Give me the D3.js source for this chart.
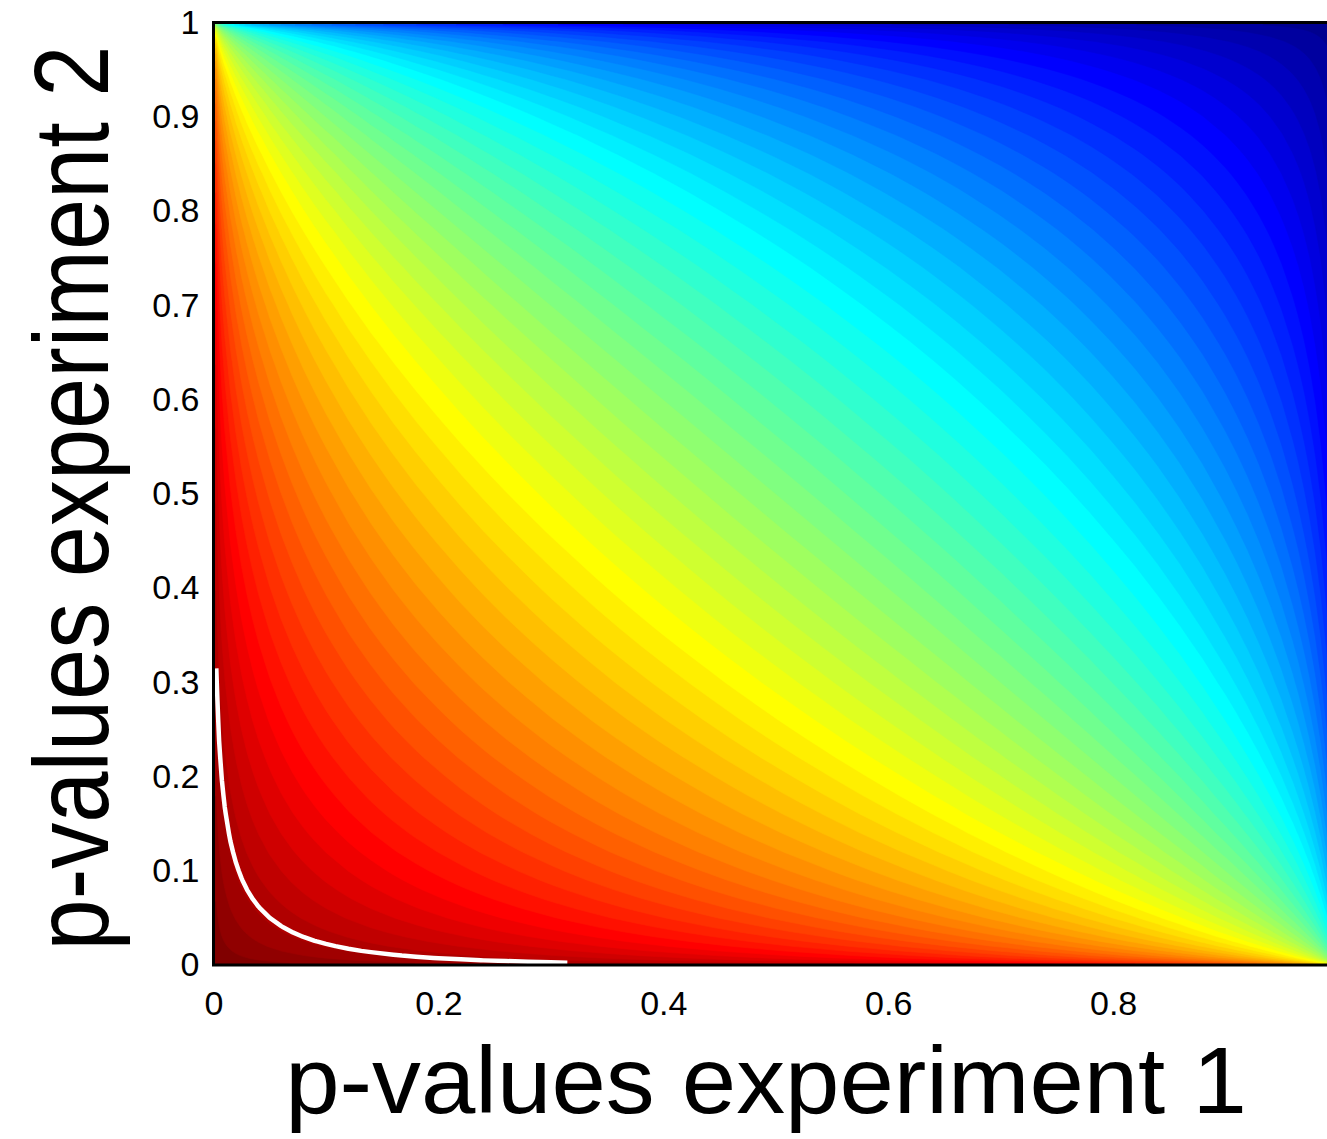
<!DOCTYPE html>
<html>
<head>
<meta charset="utf-8">
<script src="https://cdn.jsdelivr.net/npm/d3@7"></script>
<style>
  body { margin: 0; background: #fff; }
  svg { display: block; }
  text { font-family: "Liberation Sans", Arial, Helvetica, sans-serif; fill: #000; }
</style>
</head>
<body>
<svg id="chart" width="1327" height="1139"></svg>
<script>
// Sample p-values along each axis and their standard-normal quantiles.
const pGrid = [
  0.0025, 0.005, 0.0075, 0.01, 0.015, 0.02, 0.025, 0.03, 0.035, 0.04,
  0.05, 0.06, 0.07, 0.08, 0.09, 0.10, 0.12, 0.14, 0.16, 0.18,
  0.20, 0.22, 0.24, 0.26, 0.28, 0.30, 0.32, 0.34, 0.36, 0.38,
  0.40, 0.42, 0.44, 0.46, 0.48, 0.50, 0.52, 0.54, 0.56, 0.58,
  0.60, 0.62, 0.64, 0.66, 0.68, 0.70, 0.72, 0.74, 0.76, 0.78,
  0.80, 0.82, 0.84, 0.86, 0.88, 0.90, 0.91, 0.92, 0.93, 0.94,
  0.95, 0.96, 0.965, 0.97, 0.975, 0.98, 0.985, 0.99, 0.9925, 0.995,
  0.9975
];
const zGrid = [
  -2.807, -2.576, -2.432, -2.326, -2.170, -2.054, -1.960, -1.881, -1.812, -1.751,
  -1.645, -1.555, -1.476, -1.405, -1.341, -1.282, -1.175, -1.080, -0.994, -0.915,
  -0.842, -0.772, -0.706, -0.643, -0.583, -0.524, -0.468, -0.412, -0.358, -0.305,
  -0.253, -0.202, -0.151, -0.100, -0.050, 0.000, 0.050, 0.100, 0.151, 0.202,
  0.253, 0.305, 0.358, 0.412, 0.468, 0.524, 0.583, 0.643, 0.706, 0.772,
  0.842, 0.915, 0.994, 1.080, 1.175, 1.282, 1.341, 1.405, 1.476, 1.555,
  1.645, 1.751, 1.812, 1.881, 1.960, 2.054, 2.170, 2.326, 2.432, 2.576,
  2.807
];
const xTicks = [0, 0.2, 0.4, 0.6, 0.8];
const yTicks = [0, 0.1, 0.2, 0.3, 0.4, 0.5, 0.6, 0.7, 0.8, 0.9, 1];
const xTitle = "p-values experiment 1";
const yTitle = "p-values experiment 2";
const nLevels = 64;
const significanceLevel = 0.05;

// Standard normal CDF (Abramowitz & Stegun erf approximation).
function erf(v) {
  const s = Math.sign(v), a = Math.abs(v);
  const t = 1 / (1 + 0.3275911 * a);
  const r = 1 - (((((1.061405429 * t - 1.453152027) * t) + 1.421413741) * t - 0.284496736) * t + 0.254829592) * t * Math.exp(-a * a);
  return s * r;
}
const normalCdf = z => 0.5 * (1 + erf(z / Math.SQRT2));

// Combined p-value surface on the sample grid (row = experiment 2, column = experiment 1).
const n = pGrid.length;
const combined = new Float64Array(n * n);
for (let j = 0; j < n; j++) {
  for (let i = 0; i < n; i++) {
    combined[j * n + i] = normalCdf((zGrid[i] + zGrid[j]) / 2);
  }
}

const svg = d3.select("#chart");
const x = d3.scaleLinear().domain([0, 1]).range([213.5, 1338]);
const y = d3.scaleLinear().domain([0, 1]).range([965, 22.5]);

// Contour grid coordinates -> p-values (sample i sits at i + 0.5, grid edges at 0 and n).
const gridToP = d3.scaleLinear()
  .domain([0, ...d3.range(n).map(i => i + 0.5), n])
  .range([0, ...pGrid, 1]);
const toScreen = d3.geoTransform({
  point(gx, gy) { this.stream.point(x(gridToP(gx)), y(gridToP(gy))); }
});
const path = d3.geoPath(toScreen);

// Jet colour map, 64 rows; low combined p-values get the red end.
const jet = d3.scaleLinear()
  .domain([1, 8, 24, 40, 56, 64])
  .range(["#00008f", "#0000ff", "#00ffff", "#ffff00", "#ff0000", "#800000"])
  .interpolate(d3.interpolateRgb);

svg.append("defs").append("clipPath").attr("id", "plot-area")
  .append("rect")
  .attr("x", x(0)).attr("y", y(1))
  .attr("width", x(1) - x(0)).attr("height", y(0) - y(1));

const levels = d3.range(nLevels).map(k => k / nLevels);
const bands = d3.contours().size([n, n]).thresholds(levels)(combined);

const plot = svg.append("g").attr("clip-path", "url(#plot-area)");
plot.append("g")
  .selectAll("path")
  .data(bands)
  .join("path")
  .attr("d", path)
  .attr("fill", (d, k) => jet(nLevels - k))
  .attr("stroke", (d, k) => jet(nLevels - k))
  .attr("stroke-width", 0.6);

// Significance contour: keep only the part of the ring inside the grid.
const sig = d3.contours().size([n, n]).contour(combined, significanceLevel);
const onEdge = ([gx, gy]) => gx <= 0 || gx >= n || gy <= 0 || gy >= n;
const runs = [];
sig.coordinates.forEach(poly => poly.forEach(ring => {
  const pts = ring.slice(0, -1);
  const start = pts.findIndex(onEdge);
  if (start < 0) { runs.push(ring); return; }
  let cur = [];
  for (let k = 1; k <= pts.length; k++) {
    const pt = pts[(start + k) % pts.length];
    if (onEdge(pt)) { if (cur.length > 1) runs.push(cur); cur = []; }
    else cur.push(pt);
  }
  if (cur.length > 1) runs.push(cur);
}));
const sigLine = d3.line()
  .x(d => x(gridToP(d[0])))
  .y(d => y(gridToP(d[1])));
plot.append("g")
  .selectAll("path")
  .data(runs)
  .join("path")
  .attr("d", sigLine)
  .attr("fill", "none")
  .attr("stroke", "#fff")
  .attr("stroke-width", 4.5)
  .attr("stroke-linejoin", "round");

// Frame
svg.append("rect")
  .attr("x", x(0)).attr("y", y(1))
  .attr("width", x(1) - x(0)).attr("height", y(0) - y(1))
  .attr("fill", "none")
  .attr("stroke", "#000")
  .attr("stroke-width", 3);

// Axes (labels only)
const fmt = d3.format("~g");
svg.append("g")
  .attr("transform", `translate(${x(0)},0)`)
  .call(d3.axisLeft(y).tickValues(yTicks).tickSize(0).tickPadding(14).tickFormat(fmt))
  .call(g => g.select(".domain").remove())
  .attr("font-size", 34)
  .attr("font-family", "'Liberation Sans', Arial, sans-serif");

svg.append("g")
  .attr("transform", `translate(0,${y(0)})`)
  .call(d3.axisBottom(x).tickValues(xTicks).tickSize(0).tickPadding(26).tickFormat(fmt))
  .call(g => g.select(".domain").remove())
  .attr("font-size", 34)
  .attr("font-family", "'Liberation Sans', Arial, sans-serif");

// Axis titles
svg.append("text")
  .attr("transform", "translate(766,1113) scale(1.04,1)")
  .attr("text-anchor", "middle")
  .attr("font-size", 94)
  .text(xTitle);

svg.append("text")
  .attr("transform", "translate(108,498) rotate(-90) scale(1,1.15)")
  .attr("text-anchor", "middle")
  .attr("font-size", 92)
  .text(yTitle);
</script>
</body>
</html>
